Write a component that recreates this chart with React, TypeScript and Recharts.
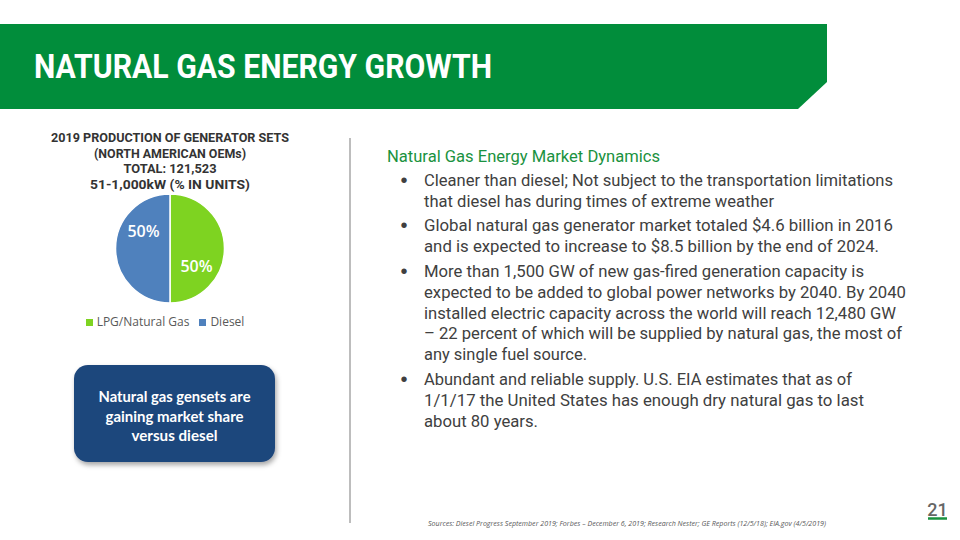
import { Cell, Legend, Pie, PieChart } from 'recharts';

const categories = ['LPG/Natural Gas', 'Diesel'];
const shares = [50, 50];
const sliceColors = ['#7ED321', '#4F81BD'];

const chartTitle = [
  '2019 PRODUCTION OF GENERATOR SETS',
  '(NORTH AMERICAN OEMs)',
  'TOTAL: 121,523',
  '51-1,000kW (% IN UNITS)',
];
const calloutLines = ['Natural gas gensets are', 'gaining market share', 'versus diesel'];
const bullets = [
  ['Cleaner than diesel; Not subject to the transportation limitations', 'that diesel has during times of extreme weather'],
  ['Global natural gas generator market totaled $4.6 billion in 2016', 'and is expected to increase to $8.5 billion by the end of 2024.'],
  [
    'More than 1,500 GW of new gas-fired generation capacity is',
    'expected to be added to global power networks by 2040. By 2040',
    'installed electric capacity across the world will reach 12,480 GW',
    '– 22 percent of which will be supplied by natural gas, the most of',
    'any single fuel source.',
  ],
  ['Abundant and reliable supply. U.S. EIA estimates that as of', '1/1/17 the United States has enough dry natural gas to last', 'about 80 years.'],
];
const sources =
  'Sources:  Diesel Progress September 2019; Forbes – December 6, 2019;  Research Nester; GE Reports (12/5/18); EIA.gov (4/5/2019)';

// measured line widths / positions from the slide
const titleWidths = [238, 152, 93, 160];
const titleY = [137, 153, 168, 184];
const calloutWidths = [152, 138, 86];
const bulletWidths = [
  [469, 350],
  [469, 455],
  [440, 482, 472, 478, 163],
  [428, 440, 114],
];
const bulletY = [
  [180, 201],
  [225, 246],
  [271, 292, 313, 333, 354],
  [379, 400, 421],
];

const RADIAN = Math.PI / 180;

function pctLabel({ cx, cy, midAngle, outerRadius, percent }: any) {
  const a = (midAngle - 33) * RADIAN;
  const r = outerRadius * 0.58;
  return (
    <text
      x={cx + r * Math.cos(a)}
      y={cy - r * Math.sin(a)}
      fill="#fff"
      textAnchor="middle"
      dominantBaseline="central"
      fontFamily="Open Sans"
      fontWeight={600}
      fontSize={16}
    >
      {`${Math.round(percent * 100)}%`}
    </text>
  );
}

export default function App() {
  const data = categories.map((name, i) => ({ name, value: shares[i] }));
  const body = { fontFamily: 'Roboto', fontSize: 17, fill: '#404040' };

  return (
    <div style={{ position: 'absolute', left: 0, top: 0, width: 960, height: 540, background: '#fff', overflow: 'hidden' }}>
      <svg width={960} height={540} style={{ position: 'absolute', left: 0, top: 0 }}>
        <polygon points="0,24 827,24 827,82 798,109 0,109" fill="#018D3B" />
        <text x={34} y={78} fill="#fff" fontFamily="Roboto" fontWeight={700} fontSize={33} textLength={458} lengthAdjust="spacingAndGlyphs">
          NATURAL GAS ENERGY GROWTH
        </text>

        {chartTitle.map((t, i) => (
          <text
            key={t}
            x={170 - titleWidths[i] / 2}
            y={titleY[i]}
            dominantBaseline="central"
            fontFamily="Roboto"
            fontWeight={700}
            fontSize={13}
            fill="#333"
            textLength={titleWidths[i]}
            lengthAdjust="spacingAndGlyphs"
          >
            {t}
          </text>
        ))}

        <defs>
          <filter id="sh" x="-10%" y="-10%" width="130%" height="140%">
            <feDropShadow dx={1.5} dy={3} stdDeviation={2.5} floodColor="#000" floodOpacity={0.35} />
          </filter>
        </defs>
        <rect x={74} y={365} width={201} height={97} rx={14} fill="#1F467B" filter="url(#sh)" />
        {calloutLines.map((t, i) => (
          <text
            key={t}
            x={174.5 - calloutWidths[i] / 2}
            y={396 + i * 19.5}
            dominantBaseline="central"
            fontFamily="Lato"
            fontWeight={700}
            fontSize={15}
            fill="#fff"
            textLength={calloutWidths[i]}
            lengthAdjust="spacingAndGlyphs"
          >
            {t}
          </text>
        ))}

        <line x1={350} y1={138} x2={350} y2={523} stroke="#BDBDBD" strokeWidth={2} />

        <text x={387} y={156} dominantBaseline="central" fontFamily="Roboto" fontSize={16.5} fill="#1A9240" textLength={273} lengthAdjust="spacingAndGlyphs">
          Natural Gas Energy Market Dynamics
        </text>
        {bullets.map((para, p) => (
          <g key={p}>
            <text x={404} y={bulletY[p][0]} dominantBaseline="central" textAnchor="middle" fontFamily="Arial" fontSize={20} fill="#404040">
              •
            </text>
            {para.map((line, j) => (
              <text
                key={j}
                x={424}
                y={bulletY[p][j]}
                dominantBaseline="central"
                {...body}
                textLength={bulletWidths[p][j]}
                lengthAdjust="spacingAndGlyphs"
              >
                {line}
              </text>
            ))}
          </g>
        ))}

        <text x={428} y={523} dominantBaseline="central" fontFamily="Open Sans" fontStyle="italic" fontSize={7.5} fill="#595959" textLength={398} lengthAdjust="spacingAndGlyphs">
          {sources}
        </text>
        <text x={937.5} y={509} textAnchor="middle" dominantBaseline="central" fontFamily="Roboto" fontWeight={500} fontSize={18} fill="#666">
          21
        </text>
        <line x1={928} y1={518.5} x2={947} y2={518.5} stroke="#1A9240" strokeWidth={2.5} />
      </svg>

      <div style={{ position: 'absolute', left: 0, top: 180 }}>
        <PieChart width={340} height={150} margin={{ top: 0, right: 0, bottom: 0, left: 0 }}>
          <Pie
            data={data}
            dataKey="value"
            nameKey="name"
            cx={170}
            cy={68.5}
            outerRadius={54.5}
            startAngle={90}
            endAngle={-270}
            stroke="#fff"
            strokeWidth={1.5}
            label={pctLabel}
            labelLine={false}
            isAnimationActive={false}
          >
            {data.map((d, i) => (
              <Cell key={d.name} fill={sliceColors[i]} />
            ))}
          </Pie>
          <Legend
            verticalAlign="bottom"
            align="center"
            iconType="square"
            iconSize={7}
            itemSorter={(item: any) => categories.indexOf(item.value)}
            formatter={(v: string) => (
              <span style={{ color: '#595959', fontFamily: 'Open Sans', fontSize: 12 }}>{v}</span>
            )}
          />
        </PieChart>
      </div>
    </div>
  );
}
